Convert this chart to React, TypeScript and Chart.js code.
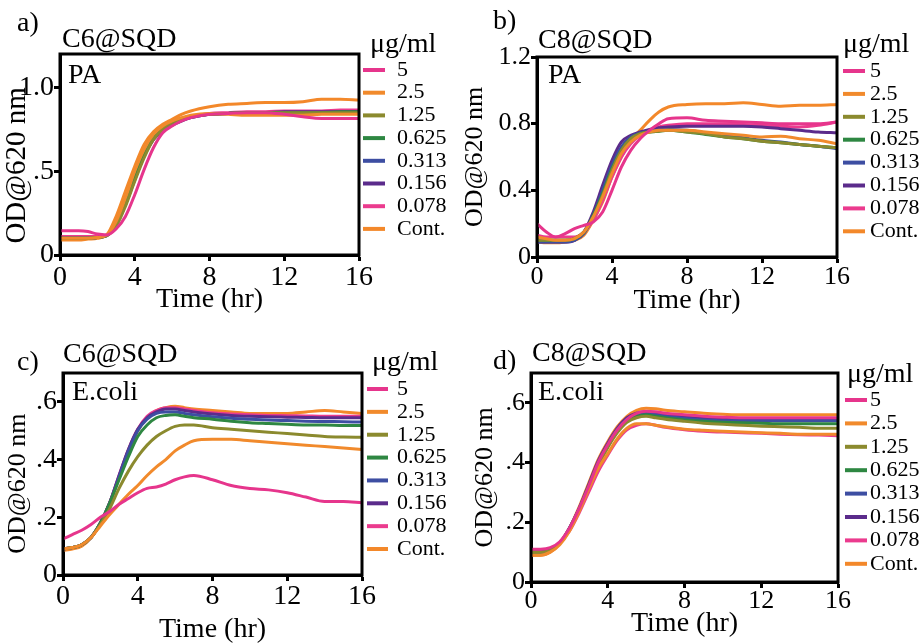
import React, { useEffect, useRef } from 'react';
import { Chart, registerables } from 'chart.js';

Chart.register(...registerables);

// ---------- data ----------
const hours = [0, 0.5, 1, 1.5, 2, 2.5, 3, 3.5, 4, 4.5, 5, 5.5, 6, 6.5, 7, 8, 9, 10, 11, 12, 13, 14, 15, 16];
const concentrations = ['5', '2.5', '1.25', '0.625', '0.313', '0.156', '0.078', 'Cont.'];
const seriesColors = ['#E6358C', '#F18A2C', '#8B8A2E', '#2E8742', '#3D4EA2', '#5B2B8B', '#EB3B8E', '#F3882A'];
const xTicks = [0, 4, 8, 12, 16];
const xTickLabels = ['0', '4', '8', '12', '16'];

const panelLetters = ['a)', 'b)', 'c)', 'd)'];
const compoundNames = ['C6@SQD', 'C8@SQD', 'C6@SQD', 'C8@SQD'];
const organismNames = ['PA', 'PA', 'E.coli', 'E.coli'];
const legendTitle = 'μg/ml';
const xTitle = 'Time (hr)';
const yTitle = 'OD@620 nm';

const yTicksA = [0, 0.5, 1.0];
const yLabelsA = ['0', '.5', '1.0'];
const yTicksB = [0, 0.4, 0.8, 1.2];
const yLabelsB = ['0', '0.4', '0.8', '1.2'];
const yTicksC = [0, 0.2, 0.4, 0.6];
const yLabelsC = ['0', '.2', '.4', '.6'];
const yTicksD = [0, 0.2, 0.4, 0.6];
const yLabelsD = ['0', '.2', '.4', '.6'];

// panel a: C6@SQD, PA
const a5 = [0.145, 0.145, 0.145, 0.14, 0.125, 0.12, 0.155, 0.23, 0.36, 0.51, 0.64, 0.73, 0.77, 0.8, 0.82, 0.84, 0.845, 0.85, 0.85, 0.84, 0.825, 0.815, 0.815, 0.815];
const a2_5 = [0.1, 0.1, 0.1, 0.1, 0.105, 0.12, 0.2, 0.34, 0.5, 0.63, 0.72, 0.77, 0.8, 0.82, 0.835, 0.845, 0.84, 0.835, 0.835, 0.835, 0.835, 0.84, 0.84, 0.84];
const a1_25 = [0.1, 0.1, 0.1, 0.1, 0.105, 0.115, 0.17, 0.29, 0.44, 0.58, 0.69, 0.75, 0.79, 0.81, 0.825, 0.84, 0.845, 0.85, 0.85, 0.85, 0.85, 0.85, 0.85, 0.85];
const a0_625 = [0.1, 0.1, 0.1, 0.1, 0.105, 0.115, 0.18, 0.31, 0.46, 0.6, 0.7, 0.755, 0.79, 0.81, 0.825, 0.84, 0.845, 0.85, 0.85, 0.85, 0.85, 0.85, 0.855, 0.855];
const a0_313 = [0.1, 0.1, 0.1, 0.1, 0.105, 0.115, 0.18, 0.3, 0.45, 0.59, 0.69, 0.75, 0.785, 0.805, 0.82, 0.84, 0.845, 0.85, 0.85, 0.85, 0.85, 0.85, 0.85, 0.85];
const a0_156 = [0.1, 0.1, 0.1, 0.1, 0.105, 0.115, 0.18, 0.31, 0.46, 0.6, 0.69, 0.74, 0.775, 0.8, 0.82, 0.84, 0.845, 0.85, 0.85, 0.855, 0.855, 0.855, 0.855, 0.855];
const a0_078 = [0.11, 0.11, 0.11, 0.11, 0.11, 0.12, 0.18, 0.3, 0.45, 0.59, 0.69, 0.75, 0.79, 0.81, 0.825, 0.845, 0.85, 0.855, 0.855, 0.86, 0.86, 0.86, 0.865, 0.865];
const aCont = [0.09, 0.09, 0.09, 0.095, 0.1, 0.12, 0.23, 0.38, 0.53, 0.66, 0.735, 0.78, 0.81, 0.84, 0.86, 0.885, 0.9, 0.905, 0.91, 0.91, 0.915, 0.93, 0.93, 0.925];

// panel b: C8@SQD, PA
const b5 = [0.2, 0.15, 0.12, 0.14, 0.17, 0.19, 0.21, 0.27, 0.4, 0.54, 0.64, 0.71, 0.76, 0.8, 0.83, 0.835, 0.82, 0.815, 0.81, 0.805, 0.8, 0.8, 0.8, 0.81];
const b2_5 = [0.12, 0.11, 0.1, 0.1, 0.11, 0.15, 0.24, 0.36, 0.5, 0.62, 0.69, 0.73, 0.75, 0.76, 0.76, 0.76, 0.75, 0.74, 0.73, 0.72, 0.725, 0.71, 0.7, 0.68];
const b1_25 = [0.1, 0.1, 0.1, 0.1, 0.11, 0.15, 0.24, 0.37, 0.52, 0.64, 0.71, 0.74, 0.75, 0.755, 0.76, 0.75, 0.74, 0.72, 0.71, 0.695, 0.685, 0.675, 0.665, 0.655];
const b0_625 = [0.1, 0.1, 0.1, 0.1, 0.11, 0.15, 0.25, 0.38, 0.53, 0.64, 0.71, 0.74, 0.75, 0.755, 0.76, 0.75, 0.735, 0.72, 0.71, 0.695, 0.685, 0.675, 0.665, 0.655];
const b0_313 = [0.09, 0.09, 0.09, 0.09, 0.1, 0.14, 0.25, 0.4, 0.55, 0.66, 0.72, 0.745, 0.755, 0.76, 0.765, 0.76, 0.745, 0.73, 0.715, 0.7, 0.69, 0.675, 0.665, 0.65];
const b0_156 = [0.09, 0.09, 0.09, 0.09, 0.1, 0.15, 0.27, 0.43, 0.58, 0.69, 0.73, 0.75, 0.765, 0.775, 0.78, 0.785, 0.785, 0.785, 0.785, 0.78, 0.77, 0.76, 0.75, 0.745];
const b0_078 = [0.13, 0.12, 0.12, 0.12, 0.12, 0.15, 0.22, 0.34, 0.48, 0.6, 0.68, 0.73, 0.76, 0.78, 0.79, 0.8, 0.8, 0.8, 0.795, 0.79, 0.785, 0.78, 0.79, 0.81];
const bCont = [0.09, 0.085, 0.085, 0.09, 0.1, 0.13, 0.22, 0.33, 0.48, 0.6, 0.7, 0.76, 0.82, 0.87, 0.9, 0.915, 0.92, 0.92, 0.925, 0.915, 0.905, 0.91, 0.91, 0.915];

// panel c: C6@SQD, E.coli
const c5 = [0.125, 0.14, 0.155, 0.175, 0.2, 0.22, 0.245, 0.265, 0.285, 0.3, 0.305, 0.315, 0.33, 0.34, 0.345, 0.33, 0.31, 0.3, 0.295, 0.285, 0.27, 0.255, 0.255, 0.25];
const c2_5 = [0.09, 0.095, 0.105, 0.13, 0.17, 0.21, 0.245, 0.28, 0.31, 0.345, 0.375, 0.4, 0.43, 0.45, 0.465, 0.47, 0.47, 0.465, 0.46, 0.455, 0.45, 0.445, 0.44, 0.435];
const c1_25 = [0.09, 0.095, 0.105, 0.13, 0.175, 0.23, 0.3, 0.36, 0.41, 0.45, 0.48, 0.5, 0.515, 0.52, 0.52, 0.51, 0.505, 0.5, 0.495, 0.49, 0.485, 0.48, 0.478, 0.477];
const c0_625 = [0.09, 0.095, 0.105, 0.13, 0.18, 0.25, 0.33, 0.41, 0.48, 0.52, 0.545, 0.553, 0.555, 0.55, 0.545, 0.54, 0.533, 0.528, 0.525, 0.522, 0.52, 0.52, 0.518, 0.518];
const c0_313 = [0.09, 0.095, 0.105, 0.13, 0.18, 0.25, 0.34, 0.43, 0.5, 0.54, 0.56, 0.565, 0.565, 0.56, 0.555, 0.548, 0.543, 0.54, 0.537, 0.535, 0.533, 0.532, 0.531, 0.53];
const c0_156 = [0.09, 0.095, 0.105, 0.13, 0.18, 0.25, 0.345, 0.435, 0.505, 0.545, 0.565, 0.575, 0.575, 0.57, 0.565, 0.558, 0.553, 0.55, 0.548, 0.547, 0.546, 0.545, 0.545, 0.545];
const c0_078 = [0.09, 0.095, 0.105, 0.13, 0.18, 0.25, 0.345, 0.435, 0.505, 0.55, 0.57, 0.58, 0.58, 0.575, 0.57, 0.562, 0.558, 0.555, 0.553, 0.552, 0.551, 0.55, 0.55, 0.55];
const cCont = [0.085, 0.09, 0.1, 0.13, 0.18, 0.25, 0.34, 0.43, 0.5, 0.545, 0.57, 0.58, 0.585, 0.58, 0.575, 0.57, 0.565, 0.56, 0.56, 0.56, 0.565, 0.57, 0.565, 0.56];

// panel d: C8@SQD, E.coli
const d5 = [0.11, 0.11, 0.115, 0.135, 0.18, 0.245, 0.32, 0.4, 0.46, 0.51, 0.545, 0.565, 0.572, 0.57, 0.565, 0.56, 0.555, 0.552, 0.55, 0.55, 0.55, 0.55, 0.55, 0.55];
const d2_5 = [0.09, 0.09, 0.1, 0.125, 0.17, 0.235, 0.31, 0.38, 0.43, 0.48, 0.515, 0.53, 0.53, 0.525, 0.52, 0.512, 0.508, 0.505, 0.502, 0.5, 0.498, 0.495, 0.495, 0.495];
const d1_25 = [0.1, 0.1, 0.105, 0.13, 0.175, 0.24, 0.315, 0.39, 0.45, 0.5, 0.535, 0.55, 0.555, 0.55, 0.545, 0.538, 0.532, 0.528, 0.525, 0.522, 0.52, 0.518, 0.515, 0.515];
const d0_625 = [0.1, 0.1, 0.105, 0.13, 0.175, 0.24, 0.32, 0.395, 0.455, 0.505, 0.54, 0.555, 0.56, 0.555, 0.55, 0.543, 0.538, 0.535, 0.533, 0.532, 0.53, 0.53, 0.53, 0.53];
const d0_313 = [0.1, 0.1, 0.105, 0.13, 0.18, 0.245, 0.32, 0.4, 0.46, 0.51, 0.545, 0.56, 0.565, 0.56, 0.555, 0.548, 0.543, 0.54, 0.54, 0.54, 0.54, 0.54, 0.54, 0.54];
const d0_156 = [0.1, 0.1, 0.105, 0.13, 0.18, 0.245, 0.325, 0.405, 0.465, 0.515, 0.55, 0.565, 0.57, 0.565, 0.56, 0.553, 0.548, 0.545, 0.545, 0.545, 0.545, 0.545, 0.545, 0.545];
const d0_078 = [0.11, 0.105, 0.11, 0.13, 0.17, 0.23, 0.3, 0.37, 0.425, 0.475, 0.51, 0.525, 0.53, 0.525, 0.518, 0.51, 0.505, 0.502, 0.5, 0.498, 0.495, 0.493, 0.492, 0.49];
const dCont = [0.09, 0.09, 0.1, 0.13, 0.18, 0.25, 0.33, 0.41, 0.47, 0.52, 0.555, 0.575, 0.582, 0.58, 0.575, 0.57, 0.565, 0.562, 0.56, 0.56, 0.56, 0.56, 0.56, 0.56];

// ---------- layout (styling only) ----------
const FONT = '"Liberation Serif", "Times New Roman", serif';

const panels = [
  {
    left: 0, top: 0, w: 461, h: 321, padTop: 54, padRight: 102, yW: 60, xH: 66, yMax: 1.2,
    yTicks: yTicksA, yLabels: yLabelsA, tickSize: 28, xTickPad: 2.5,
    yTitleSize: 29, yTitlePad: 2.5, yTitleTrail: '   ', xTitlePad: 7,
    series: [a5, a2_5, a1_25, a0_625, a0_313, a0_156, a0_078, aCont],
    pos: { letter: [17, 24], compound: [62, 40], organism: [68, 76] },
    legend: { titleX: 370, titleY: 45, x0: 363, x1: 385, textX: 397, y0: 70, step: 22.7 },
  },
  {
    left: 461, top: 0, w: 462, h: 321, padTop: 57, padRight: 86, yW: 76, xH: 64, yMax: 1.2,
    yTicks: yTicksB, yLabels: yLabelsB, tickSize: 26, xTickPad: 1,
    yTitleSize: 26, yTitlePad: 1, yTitleTrail: '', xTitlePad: 6,
    series: [b5, b2_5, b1_25, b0_625, b0_313, b0_156, b0_078, bCont],
    pos: { letter: [32, 22], compound: [77, 41], organism: [87, 76] },
    legend: { titleX: 382, titleY: 45, x0: 382, x1: 404, textX: 409, y0: 71, step: 22.9 },
  },
  {
    left: 0, top: 321, w: 461, h: 322, padTop: 52, padRight: 99, yW: 63, xH: 68, yMax: 0.7,
    yTicks: yTicksC, yLabels: yLabelsC, tickSize: 28, xTickPad: 2,
    yTitleSize: 26, yTitlePad: 5, yTitleTrail: '   ', xTitlePad: -1,
    series: [c5, c2_5, c1_25, c0_625, c0_313, c0_156, c0_078, cCont],
    pos: { letter: [17, 42], compound: [63, 34], organism: [72, 72] },
    legend: { titleX: 372, titleY: 42, x0: 367, x1: 388, textX: 397, y0: 68, step: 22.86 },
  },
  {
    left: 461, top: 321, w: 462, h: 322, padTop: 52, padRight: 85, yW: 70, xH: 61, yMax: 0.7,
    yTicks: yTicksD, yLabels: yLabelsD, tickSize: 26, xTickPad: 0,
    yTitleSize: 26, yTitlePad: 11, yTitleTrail: '', xTitlePad: 5,
    series: [d5, d2_5, d1_25, d0_625, d0_313, d0_156, d0_078, dCont],
    pos: { letter: [32, 41], compound: [71, 33], organism: [77, 72] },
    legend: { titleX: 386, titleY: 54, x0: 384, x1: 406, textX: 409, y0: 79, step: 23.4 },
  },
];

const decoPlugin = {
  id: 'deco',
  afterDatasetsDraw(chart: any) {
    const { ctx, chartArea: ca } = chart;
    ctx.save();
    ctx.strokeStyle = '#000';
    ctx.lineWidth = 3;
    ctx.strokeRect(ca.left, ca.top, ca.right - ca.left, ca.bottom - ca.top);
    ctx.restore();
  },
  afterDraw(chart: any) {
    const cfg = chart.$panel;
    const idx = chart.$index;
    if (!cfg) return;
    const ctx = chart.ctx;
    ctx.save();
    ctx.fillStyle = '#000';
    ctx.textBaseline = 'middle';
    ctx.textAlign = 'left';
    ctx.font = `28px ${FONT}`;
    ctx.fillText(panelLetters[idx], cfg.pos.letter[0], cfg.pos.letter[1]);
    ctx.fillText(compoundNames[idx], cfg.pos.compound[0], cfg.pos.compound[1]);
    ctx.fillText(organismNames[idx], cfg.pos.organism[0], cfg.pos.organism[1]);
    const lg = cfg.legend;
    ctx.fillText(legendTitle, lg.titleX, lg.titleY);
    ctx.font = `22px ${FONT}`;
    chart.data.datasets.forEach((ds: any, i: number) => {
      const y = lg.y0 + i * lg.step;
      ctx.strokeStyle = ds.borderColor;
      ctx.lineWidth = 4;
      ctx.beginPath();
      ctx.moveTo(lg.x0, y);
      ctx.lineTo(lg.x1, y);
      ctx.stroke();
      ctx.fillText(ds.label, lg.textX, y);
    });
    ctx.restore();
  },
};

function buildChart(canvas: HTMLCanvasElement, cfg: any, idx: number) {
  const datasets = cfg.series.map((vals: number[], i: number) => ({
    label: concentrations[i],
    data: hours.map((t, k) => ({ x: t, y: vals[k] })),
    borderColor: seriesColors[i],
    backgroundColor: seriesColors[i],
    borderWidth: 3,
    pointRadius: 0,
    fill: false,
    cubicInterpolationMode: 'monotone',
  }));
  const tickFont = { family: FONT, size: cfg.tickSize, lineHeight: 1 };
  const chart: any = new Chart(canvas, {
    type: 'line',
    data: { datasets },
    options: {
      responsive: false,
      devicePixelRatio: 1,
      animation: false,
      events: [],
      layout: { padding: { top: cfg.padTop, right: cfg.padRight, bottom: 0, left: 0 } },
      plugins: { legend: { display: false }, tooltip: { enabled: false }, title: { display: false } },
      scales: {
        x: {
          type: 'linear',
          min: 0,
          max: 16,
          afterBuildTicks: (s: any) => { s.ticks = xTicks.map((v) => ({ value: v })); },
          afterFit: (s: any) => { s.height = cfg.xH; },
          grid: { display: true, drawOnChartArea: false, drawTicks: true, tickLength: 6, tickWidth: 3, tickColor: '#000' },
          border: { display: true, color: '#000', width: 3 },
          ticks: {
            font: tickFont, color: '#000', padding: cfg.xTickPad, maxRotation: 0, autoSkip: false,
            callback: (v: any) => xTickLabels[xTicks.indexOf(Number(v))] ?? '',
          },
          title: {
            display: true, text: xTitle, color: '#000',
            font: { family: FONT, size: 28, lineHeight: 1 },
            padding: { top: 0, bottom: cfg.xTitlePad },
          },
        },
        y: {
          type: 'linear',
          min: 0,
          max: cfg.yMax,
          afterBuildTicks: (s: any) => { s.ticks = cfg.yTicks.map((v: number) => ({ value: v })); },
          afterFit: (s: any) => { s.width = cfg.yW; },
          grid: { display: true, drawOnChartArea: false, drawTicks: true, tickLength: 6, tickWidth: 3, tickColor: '#000' },
          border: { display: true, color: '#000', width: 3 },
          ticks: {
            font: tickFont, color: '#000', padding: 0, autoSkip: false,
            callback: (v: any) => {
              const k = cfg.yTicks.findIndex((t: number) => Math.abs(t - Number(v)) < 1e-9);
              return k >= 0 ? cfg.yLabels[k] : '';
            },
          },
          title: {
            display: true, text: yTitle + cfg.yTitleTrail, color: '#000',
            font: { family: FONT, size: cfg.yTitleSize, lineHeight: 1 },
            padding: { top: cfg.yTitlePad, bottom: 0 },
          },
        },
      },
    },
    plugins: [decoPlugin],
  } as any);
  chart.$panel = cfg;
  chart.$index = idx;
  chart.draw();
  return chart;
}

export default function App() {
  const refs = [useRef<HTMLCanvasElement>(null), useRef<HTMLCanvasElement>(null), useRef<HTMLCanvasElement>(null), useRef<HTMLCanvasElement>(null)];
  useEffect(() => {
    const charts = panels.map((cfg, i) => buildChart(refs[i].current as HTMLCanvasElement, cfg, i));
    return () => charts.forEach((c) => c.destroy());
  }, []);
  return (
    <div style={{ position: 'absolute', left: 0, top: 0, width: 923, height: 643, background: '#fff', overflow: 'hidden' }}>
      {panels.map((p, i) => (
        <canvas
          key={i}
          ref={refs[i]}
          width={p.w}
          height={p.h}
          style={{ position: 'absolute', left: p.left, top: p.top, width: p.w, height: p.h }}
        />
      ))}
    </div>
  );
}
